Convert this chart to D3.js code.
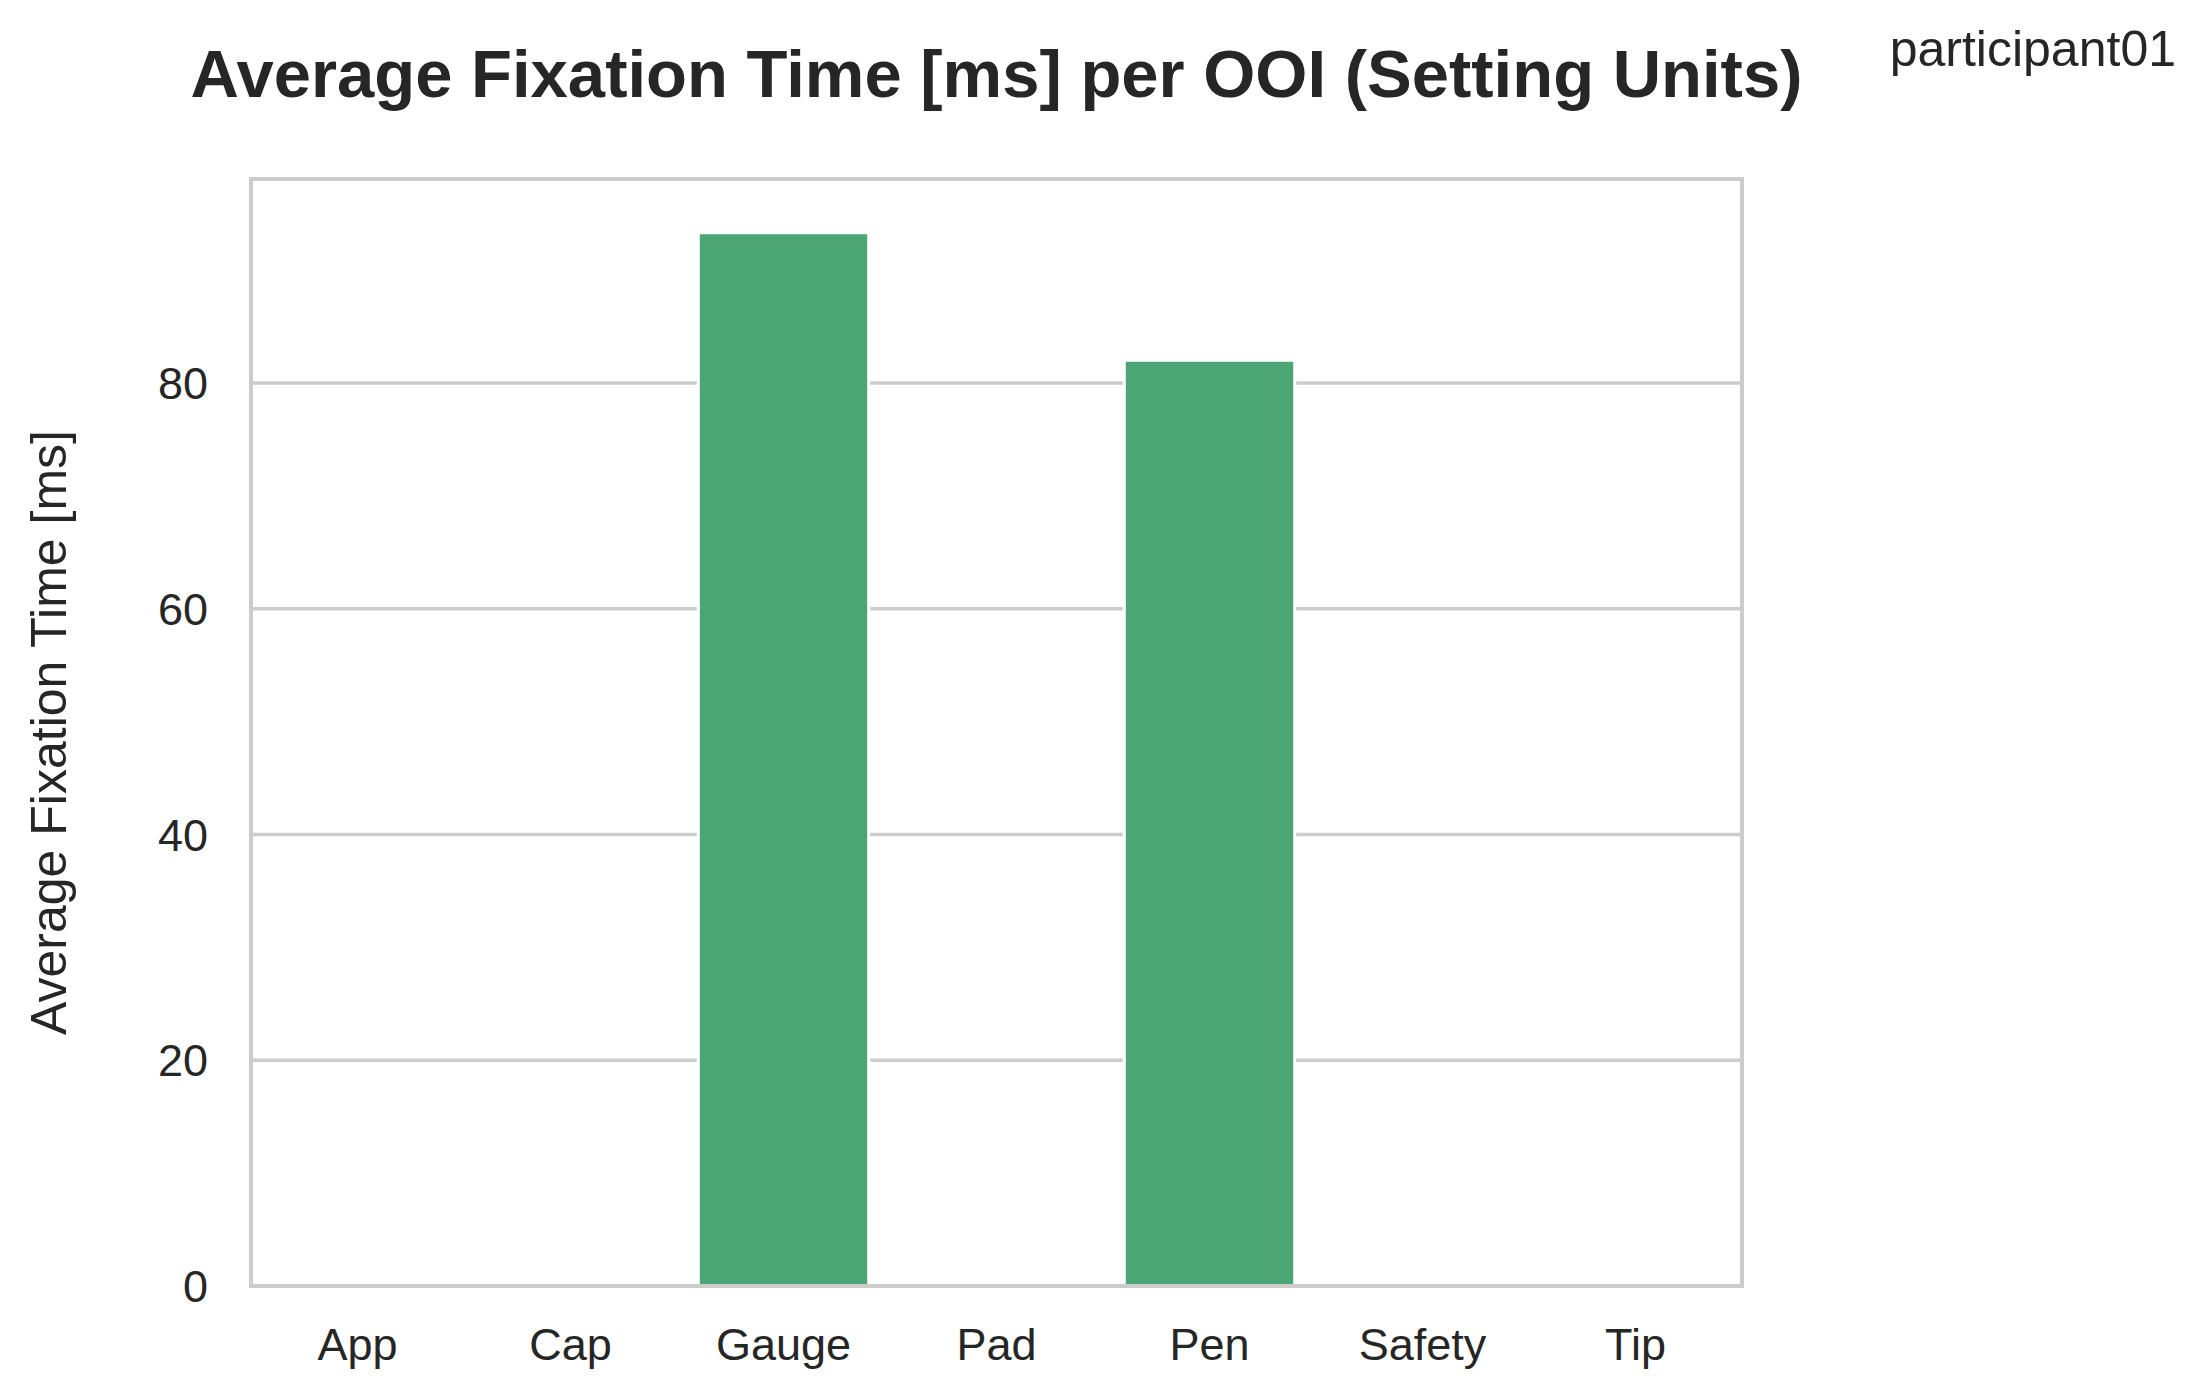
<!DOCTYPE html>
<html>
<head>
<meta charset="utf-8">
<script src="https://cdn.jsdelivr.net/npm/d3@7"></script>
<style>
  body { margin: 0; background: #fff; }
  text { font-family: "Liberation Sans", Arial, sans-serif; fill: #262626; }
</style>
</head>
<body>
<svg id="chart" width="2203" height="1397"></svg>
<script>
// data
const categories = ['App', 'Cap', 'Gauge', 'Pad', 'Pen', 'Safety', 'Tip'];
const values = [0, 0, 93.3, 0, 82.0, 0, 0];
const yTicks = [0, 20, 40, 60, 80];

const W = 2203, H = 1397;
const margin = {left: 251, right: W - 1742, top: 179, bottom: H - 1286};

const svg = d3.select('#chart');

const x = d3.scaleBand()
  .domain(categories)
  .range([margin.left, W - margin.right])
  .paddingInner(0.2)
  .paddingOuter(0.1);

const y = d3.scaleLinear()
  .domain([0, 98.06])
  .range([H - margin.bottom, margin.top]);

// grid
svg.append('g')
  .selectAll('line')
  .data(yTicks.slice(1))
  .join('line')
    .attr('x1', margin.left).attr('x2', W - margin.right)
    .attr('y1', d => y(d)).attr('y2', d => y(d))
    .attr('stroke', '#cccccc').attr('stroke-width', 3.5);

// bars
svg.append('g')
  .selectAll('rect')
  .data(categories)
  .join('rect')
    .attr('x', d => x(d))
    .attr('width', x.bandwidth())
    .attr('y', (d, i) => y(values[i]))
    .attr('height', (d, i) => y(0) - y(values[i]))
    .attr('fill', '#4ca574')
    .attr('stroke', '#fff').attr('stroke-width', 3);

// frame
svg.append('rect')
  .attr('x', margin.left).attr('y', margin.top)
  .attr('width', W - margin.left - margin.right)
  .attr('height', H - margin.top - margin.bottom)
  .attr('fill', 'none').attr('stroke', '#cccccc').attr('stroke-width', 4);

// y tick labels
svg.append('g')
  .selectAll('text')
  .data(yTicks)
  .join('text')
    .attr('x', 208)
    .attr('y', d => y(d))
    .attr('dy', '0.36em')
    .attr('text-anchor', 'end')
    .attr('font-size', 45)
    .text(d => d);

// x tick labels
svg.append('g')
  .selectAll('text')
  .data(categories)
  .join('text')
    .attr('x', d => x(d) + x.bandwidth() / 2)
    .attr('y', 1360)
    .attr('text-anchor', 'middle')
    .attr('font-size', 45)
    .text(d => d);

// y label
svg.append('text')
  .attr('transform', `translate(66,${(margin.top + H - margin.bottom) / 2}) rotate(-90)`)
  .attr('text-anchor', 'middle')
  .attr('font-size', 50)
  .text('Average Fixation Time [ms]');

// title
svg.append('text')
  .attr('x', (margin.left + W - margin.right) / 2)
  .attr('y', 97)
  .attr('text-anchor', 'middle')
  .attr('font-size', 67)
  .attr('font-weight', 'bold')
  .text('Average Fixation Time [ms] per OOI (Setting Units)');

svg.append('text')
  .attr('x', 2176)
  .attr('y', 66)
  .attr('text-anchor', 'end')
  .attr('font-size', 50)
  .text('participant01');
</script>
</body>
</html>
